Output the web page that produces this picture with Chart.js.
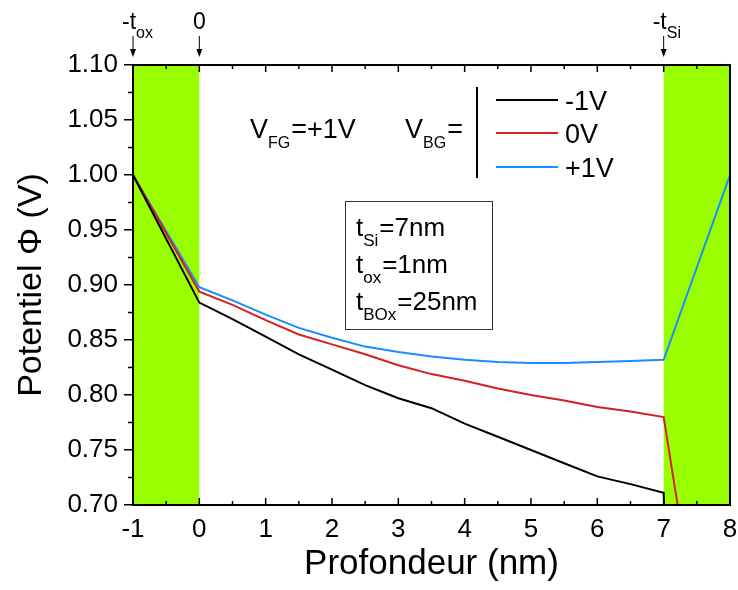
<!DOCTYPE html>
<html>
<head>
<meta charset="utf-8">
<script src="https://cdn.jsdelivr.net/npm/chart.js@4.4.0/dist/chart.umd.min.js"></script>
<style>
  body { margin: 0; background: #fff; }
  canvas { display: block; }
</style>
</head>
<body>
<canvas id="potentialChart" width="738" height="590"></canvas>
<script>
// depth in nm (-1..0 front oxide, 0..7 silicon, 7..8 buried oxide)
const depth = [-1, 0, 0.5, 1, 1.5, 2, 2.5, 3, 3.5, 4, 4.5, 5, 5.5, 6, 6.5, 7, 8];

const phiVbgMinus1 = [1.000, 0.884, 0.869, 0.853, 0.837, 0.823, 0.809, 0.797, 0.788, 0.774, 0.762, 0.750, 0.738, 0.726, 0.719, 0.711, -1.000];
const phiVbg0      = [1.000, 0.894, 0.882, 0.868, 0.855, 0.846, 0.837, 0.827, 0.819, 0.813, 0.806, 0.800, 0.795, 0.789, 0.785, 0.780, 0.400];
const phiVbgPlus1  = [1.000, 0.898, 0.886, 0.873, 0.861, 0.852, 0.844, 0.839, 0.835, 0.832, 0.830, 0.829, 0.829, 0.830, 0.831, 0.832, 1.000];

const seriesLabels = ['-1V', '0V', '+1V'];
const seriesColors = ['#000000', '#d42020', '#1a8cff'];

const oxideRegions = [[-1, 0], [7, 8]];
const topMarkers = [
    { x: -1, text: '-t', sub: 'ox' },
    { x: 0, text: '0', sub: '' },
    { x: 7, text: '-t', sub: 'Si' },
];

const FONT = "'Liberation Sans', Arial, sans-serif";
const GREEN = '#99ff00';

function toPoints(values) {
    return depth.map((d, i) => ({ x: d, y: values[i] }));
}

// draws a run of text pieces, each [text, size, yOffset]
function richText(ctx, x, y, parts) {
    let cx = x;
    parts.forEach(([t, size, dy]) => {
        ctx.font = size + 'px ' + FONT;
        ctx.fillText(t, cx, y + dy);
        cx += ctx.measureText(t).width + (dy ? 1 : 0);
    });
    return cx;
}

function downArrow(ctx, x, y0, y1) {
    ctx.lineWidth = 1;
    ctx.beginPath();
    ctx.moveTo(x, y0);
    ctx.lineTo(x, y1 - 6);
    ctx.stroke();
    ctx.beginPath();
    ctx.moveTo(x - 3, y1 - 8);
    ctx.lineTo(x + 3, y1 - 8);
    ctx.lineTo(x, y1);
    ctx.closePath();
    ctx.fill();
}

const oxideBands = {
    id: 'oxideBands',
    beforeDatasetsDraw(chart) {
        const { ctx, chartArea, scales } = chart;
        ctx.save();
        ctx.fillStyle = GREEN;
        oxideRegions.forEach(([a, b]) => {
            const x0 = scales.x.getPixelForValue(a);
            const x1 = scales.x.getPixelForValue(b);
            ctx.fillRect(x0, chartArea.top, x1 - x0, chartArea.bottom - chartArea.top);
        });
        ctx.restore();
    }
};

const frameTicks = {
    id: 'frameTicks',
    afterDatasetsDraw(chart) {
        const { ctx, chartArea: ca, scales } = chart;
        ctx.save();
        ctx.strokeStyle = '#000';
        ctx.lineWidth = 1.5;
        ctx.beginPath();
        // x ticks point inward, bottom and top
        for (let v = -1; v <= 8; v += 0.5) {
            const px = scales.x.getPixelForValue(v);
            const len = Number.isInteger(v) ? 7 : 4;
            ctx.moveTo(px, ca.bottom); ctx.lineTo(px, ca.bottom - len);
            ctx.moveTo(px, ca.top); ctx.lineTo(px, ca.top + len);
        }
        // y minor ticks, outward
        for (let v = 0.725; v < 1.1; v += 0.05) {
            const py = scales.y.getPixelForValue(v);
            ctx.moveTo(ca.left, py); ctx.lineTo(ca.left - 5, py);
        }
        ctx.stroke();
        ctx.lineWidth = 2;
        ctx.strokeRect(ca.left, ca.top, ca.right - ca.left, ca.bottom - ca.top);
        ctx.restore();
    }
};

const annotations = {
    id: 'annotations',
    afterDraw(chart) {
        const { ctx, scales } = chart;
        ctx.save();
        ctx.fillStyle = '#000';
        ctx.strokeStyle = '#000';
        ctx.textBaseline = 'alphabetic';

        // markers above the plot
        topMarkers.forEach(m => {
            const px = scales.x.getPixelForValue(m.x);
            ctx.font = '23px ' + FONT;
            const w = ctx.measureText(m.text).width;
            const start = m.sub ? px - 11 : px - w / 2;
            richText(ctx, start, 29, m.sub ? [[m.text, 23, 0], [m.sub, 16, 9]] : [[m.text, 23, 0]]);
            downArrow(ctx, px, 36, 57);
        });

        // gate biases
        richText(ctx, 250, 138, [['V', 27, 0], ['FG', 16, 10], ['=+1V', 27, 0]]);
        richText(ctx, 405, 138, [['V', 27, 0], ['BG', 16, 10], ['=', 27, 0]]);

        // legend with bracket
        ctx.lineWidth = 2;
        ctx.beginPath();
        ctx.moveTo(477, 87);
        ctx.lineTo(477, 178);
        ctx.stroke();
        const legendY = [100, 133, 167];
        seriesLabels.forEach((lab, i) => {
            ctx.strokeStyle = seriesColors[i];
            ctx.beginPath();
            ctx.moveTo(496, legendY[i]);
            ctx.lineTo(558, legendY[i]);
            ctx.stroke();
            ctx.font = '27px ' + FONT;
            ctx.fillText(lab, 565, legendY[i] + 9.5);
        });

        // thickness box
        ctx.strokeStyle = '#333';
        ctx.lineWidth = 1;
        ctx.strokeRect(345.5, 201.5, 147, 128);
        richText(ctx, 356, 236, [['t', 26, 0], ['Si', 17, 10], ['=7nm', 26, 0]]);
        richText(ctx, 356, 273, [['t', 26, 0], ['ox', 17, 10], ['=1nm', 26, 0]]);
        richText(ctx, 356, 310, [['t', 26, 0], ['BOx', 17, 10], ['=25nm', 26, 0]]);
        ctx.restore();
    }
};

new Chart(document.getElementById('potentialChart'), {
    type: 'line',
    data: {
        datasets: [phiVbgMinus1, phiVbg0, phiVbgPlus1].map((vals, i) => ({
            label: seriesLabels[i],
            data: toPoints(vals),
            borderColor: seriesColors[i],
            borderWidth: 2,
            pointRadius: 0,
            tension: 0,
            fill: false,
        }))
    },
    options: {
        responsive: false,
        animation: false,
        events: [],
        layout: { padding: { top: 65, right: 8, left: 0, bottom: 0 } },
        plugins: {
            legend: { display: false },
            tooltip: { enabled: false },
        },
        scales: {
            x: {
                type: 'linear',
                min: -1,
                max: 8,
                afterFit: s => { s.height = 85; s.paddingRight = 0; s.paddingLeft = 0; },
                ticks: {
                    stepSize: 1,
                    color: '#000',
                    padding: 9,
                    font: { family: FONT, size: 26 },
                },
                grid: { drawOnChartArea: false, drawTicks: false },
                border: { color: '#000', width: 2 },
                title: {
                    display: true,
                    text: 'Profondeur (nm)',
                    color: '#000',
                    font: { family: FONT, size: 35 },
                    padding: { top: 0, bottom: 5 },
                },
            },
            y: {
                min: 0.7,
                max: 1.1,
                afterFit: s => { s.width = 133; s.paddingTop = 0; s.paddingBottom = 0; },
                ticks: {
                    stepSize: 0.05,
                    color: '#000',
                    padding: 6,
                    font: { family: FONT, size: 26 },
                    callback: v => v.toFixed(2),
                },
                grid: { drawOnChartArea: false, tickLength: 9, color: '#000', lineWidth: 1.5 },
                border: { color: '#000', width: 2 },
                title: {
                    display: true,
                    text: 'Potentiel Φ (V)',
                    color: '#000',
                    font: { family: FONT, size: 34 },
                    padding: { top: 11, bottom: 0 },
                },
            },
        },
    },
    plugins: [oxideBands, frameTicks, annotations],
});
</script>
</body>
</html>
